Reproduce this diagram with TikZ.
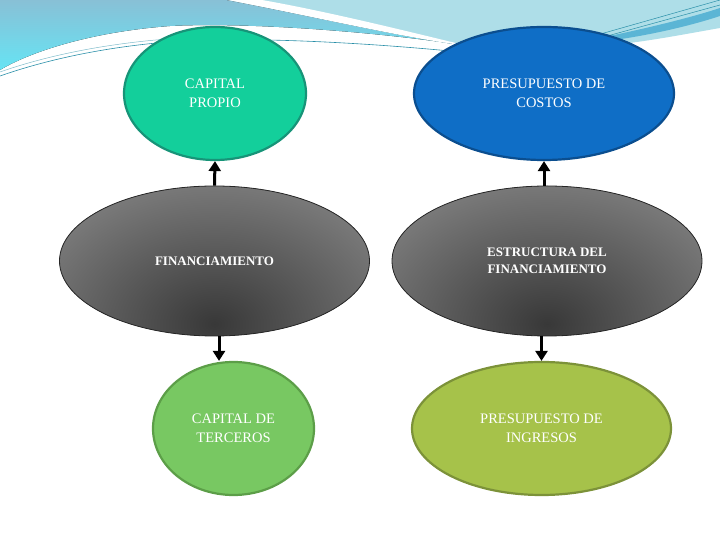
\documentclass[tikz,border=0pt]{standalone}
\usepackage{fontspec}
\setmainfont{Liberation Serif}
\usetikzlibrary{shapes.geometric,arrows.meta,positioning}

\definecolor{vertcp}{HTML}{13CF9B}
\definecolor{vertcpbord}{HTML}{179478}
\definecolor{bleupc}{HTML}{0F6EC6}
\definecolor{bleupcbord}{HTML}{0B4E8F}
\definecolor{vertct}{HTML}{78C862}
\definecolor{vertctbord}{HTML}{5C9E48}
\definecolor{olivepi}{HTML}{A6C24A}
\definecolor{olivepibord}{HTML}{7C9239}
\definecolor{grisclair}{HTML}{7B7B7B}
\definecolor{cielmoyen}{HTML}{88C0D6}
\definecolor{cielcyan}{HTML}{66E4F4}
\definecolor{cielclair}{HTML}{AEDEE8}
\definecolor{cielfonce}{HTML}{5BB5D5}
\definecolor{filet}{HTML}{2A8FA8}

\begin{document}
\begin{tikzpicture}[
        x=1pt, y=1pt,
        node distance={167.5pt},
        bulle/.style = {draw, ellipse, line width=2.2pt, inner sep=0pt, text=white, align=center, font=\fontsize{14.5}{19}\selectfont},
        gris/.style = {draw=black!85, ellipse, line width=0.8pt, inner sep=0pt, text=white, align=center,
            font=\bfseries\fontsize{13}{17}\selectfont, fill=grisclair, minimum width=310pt, minimum height=150pt,
            path picture={\shade[inner color=black!78, outer color=grisclair] ([yshift=12pt]path picture bounding box.south) ellipse (200pt and 145pt);}},
        fleche/.style = {-{Triangle[length=10pt,width=12pt]}, line width=3pt}
    ]
        \useasboundingbox (0,0) rectangle (720,540);

        % Fond : vagues en haut
        \fill[cielclair] (226,540) -- (720,540) -- (720,512) .. controls (680,505) and (640,497) .. (600,494)
            .. controls (560,492) and (500,492) .. (468,494) .. controls (400,503) and (330,520) .. (226,540) -- cycle;
        \fill[top color=cielmoyen, bottom color=cielcyan] (0,540) -- (226,540) .. controls (330,520) and (400,503) .. (468,494)
            .. controls (380,508) and (250,518) .. (170,514) .. controls (90,508) and (30,488) .. (0,470) -- cycle;
        \fill[white] (228,540) .. controls (330,520) and (400,503) .. (468,494) .. controls (410,508) and (330,528) .. (262,540) -- cycle;
        \draw[filet, line width=0.6pt] (0,464) .. controls (60,485) and (130,497) .. (200,500) .. controls (280,502) and (380,496) .. (460,488);
        \draw[filet!60, line width=0.5pt] (0,468) .. controls (60,489) and (130,500) .. (200,503);
        \fill[cielfonce] (590,500) .. controls (640,510) and (690,522) .. (720,532) -- (720,524) .. controls (690,514) and (640,502) .. (590,497) -- cycle;
        \draw[filet, line width=0.5pt] (590,503) -- (720,540);
        \draw[filet, line width=0.5pt] (600,502) -- (720,535);

        % Noeuds (positionnement relatif)
        \node[gris] (fin) at (214.5,279) {FINANCIAMIENTO};
        \node[gris] (est) [right of=fin, node distance=332.5pt] {ESTRUCTURA DEL\\FINANCIAMIENTO};
        \node[bulle, fill=vertcp, draw=vertcpbord, minimum width=182pt, minimum height=133pt] (cp) [above of=fin, xshift=0.5pt] {CAPITAL\\PROPIO};
        \node[bulle, fill=bleupc, draw=bleupcbord, minimum width=260pt, minimum height=133pt] (pc) [above of=est, xshift=-3pt] {PRESUPUESTO DE\\COSTOS};
        \node[bulle, fill=vertct, draw=vertctbord, minimum width=161pt, minimum height=133pt] (ct) [below of=fin, xshift=19pt] {CAPITAL DE\\TERCEROS};
        \node[bulle, fill=olivepi, draw=olivepibord, minimum width=259pt, minimum height=133pt] (pi) [below of=est, xshift=-5.5pt] {PRESUPUESTO DE\\INGRESOS};

        % Flèches
        \draw[fleche] (fin.north) -- (cp.south);
        \draw[fleche] (est.north -| pc.south) -- (pc.south);
        \draw[fleche] ([xshift=4.5pt]fin.south) -- ([xshift=4.5pt]fin.south |- ct.north);
        \draw[fleche] (est.south -| pi.north) -- (pi.north);

    \end{tikzpicture}
\end{document}
